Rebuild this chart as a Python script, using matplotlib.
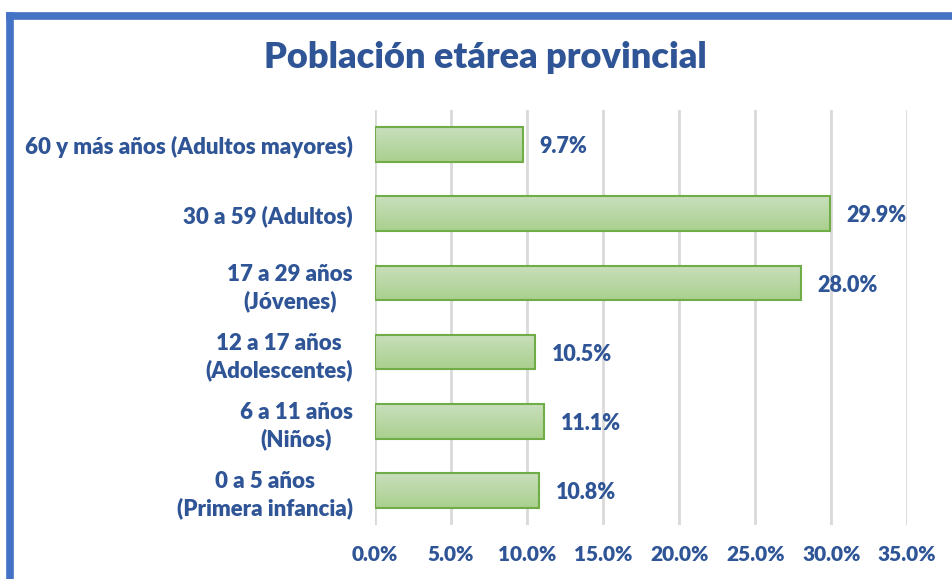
import numpy as np
import matplotlib.pyplot as plt
from matplotlib.lines import Line2D
from matplotlib.colors import LinearSegmentedColormap
from matplotlib.ticker import FuncFormatter, MultipleLocator

# datos
categorias = ['0 a 5 años\n(Primera infancia)', '6 a 11 años\n(Niños)',
              '12 a 17 años\n(Adolescentes)', '17 a 29 años\n(Jóvenes)',
              '30 a 59 (Adultos)', '60 y más años (Adultos mayores)']
valores = [10.8, 11.1, 10.5, 28.0, 29.9, 9.7]
etiquetas = ['10.8%', '11.1%', '10.5%', '28.0%', '29.9%', '9.7%']

azul = '#2F5597'
plt.rcParams['font.family'] = ['Lato', 'DejaVu Sans']
plt.rcParams['font.weight'] = 'heavy'

fig = plt.figure(figsize=(9.52, 5.79), dpi=100)
ax = fig.add_axes([0.394, 0.093, 0.559, 0.717])

y = np.arange(len(categorias))
bars = ax.barh(y, valores, height=0.5, color='none', edgecolor='#70AD47', linewidth=1.5, zorder=3)

# degradado dentro de cada barra
grad = np.linspace(0, 1, 100).reshape(-1, 1)
cmap = LinearSegmentedColormap.from_list('verde', ['#A9D08E', '#C9DFBD'])
for b in bars:
    x0, y0 = b.get_x(), b.get_y()
    w, h = b.get_width(), b.get_height()
    im = ax.imshow(grad, extent=[x0, x0 + w, y0, y0 + h], origin='lower', aspect='auto',
                   cmap=cmap, zorder=2)
    im.set_clip_path(b)

for v, t, yy in zip(valores, etiquetas, y):
    ax.text(v + 1.1, yy - 0.03, t, va='center', ha='left', color=azul, fontsize=15.5, fontweight='heavy')

ax.set_xlim(0, 35)
ax.set_ylim(-0.5, len(categorias) - 0.5)
ax.xaxis.set_major_locator(MultipleLocator(5))
ax.xaxis.set_major_formatter(FuncFormatter(lambda v, p: f'{v:.1f}%'))
ax.set_yticks(y)
ax.set_yticklabels(categorias, multialignment='center', linespacing=1.3)
ax.tick_params(axis='both', length=0, labelcolor=azul)
ax.tick_params(axis='x', pad=14, labelsize=15)
ax.tick_params(axis='y', pad=16, labelsize=16)
for s in ax.spines.values():
    s.set_visible(False)
ax.grid(axis='x', color='#D9D9D9', linewidth=2, zorder=0)
ax.set_axisbelow(True)

fig.text(0.51, 0.9, 'Población etárea provincial', ha='center', va='center',
         color=azul, fontsize=26, fontweight='heavy')

# marco azul arriba e izquierda
fig.add_artist(Line2D([0.011, 1.0], [0.973, 0.973], transform=fig.transFigure, color='#4472C4', linewidth=5.5))
fig.add_artist(Line2D([0.011, 0.011], [0.0, 0.973], transform=fig.transFigure, color='#4472C4', linewidth=5.5))

fig.savefig('out.png', dpi=100)
